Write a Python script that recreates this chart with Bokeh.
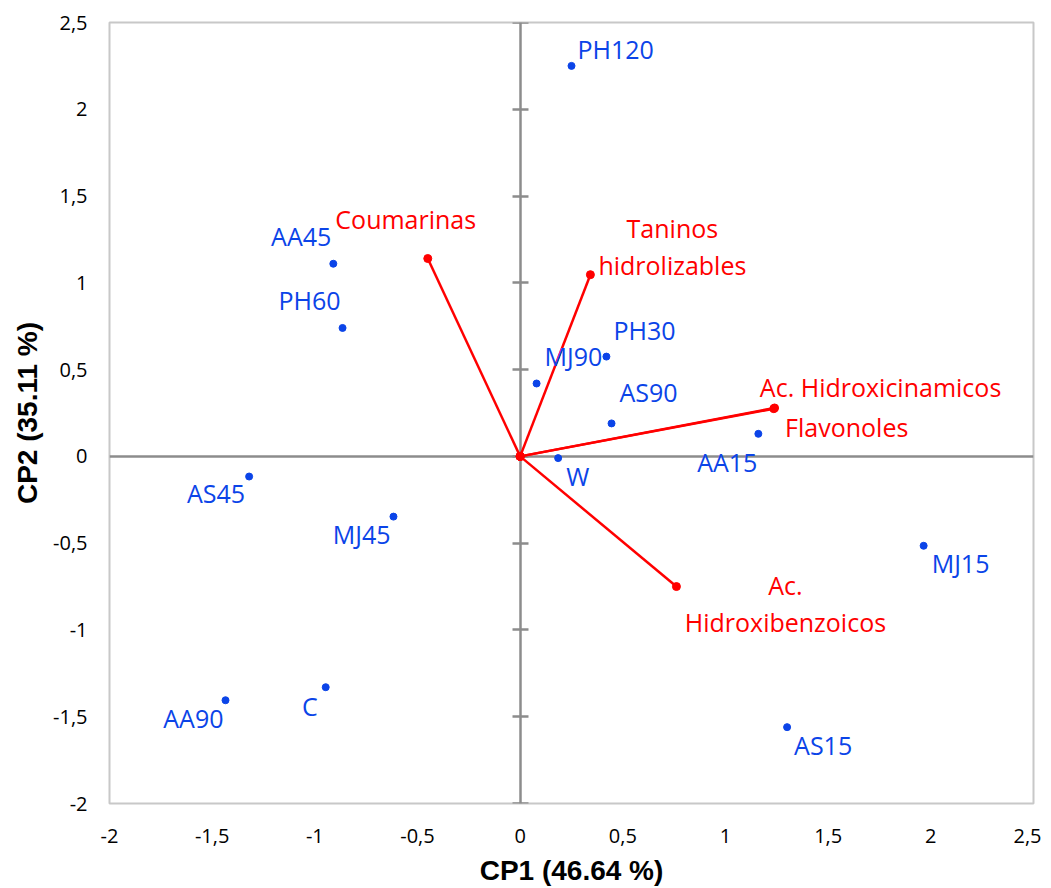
from bokeh.plotting import figure
from bokeh.models import ColumnDataSource, LinearAxis, FixedTicker
from bokeh.core.properties import value
from bokeh.embed import file_html
from bokeh.resources import INLINE

# ---------------- data ----------------
sample_names = ["PH120", "AA45", "PH60", "MJ90", "PH30", "AS90", "AA15",
                "W", "AS45", "MJ45", "C", "AA90", "MJ15", "AS15"]
sample_cp1 = [0.25, -0.91, -0.865, 0.08, 0.42, 0.445, 1.16,
              0.185, -1.32, -0.617, -0.947, -1.435, 1.965, 1.30]
sample_cp2 = [2.25, 1.11, 0.74, 0.42, 0.575, 0.19, 0.13,
              -0.01, -0.116, -0.347, -1.33, -1.405, -0.515, -1.56]

var_names = ["Coumarinas", "Taninos\nhidrolizables", "Ac. Hidroxicinamicos",
             "Flavonoles", "Ac.\nHidroxibenzoicos"]
var_cp1 = [-0.45, 0.342, 1.239, 1.235, 0.761]
var_cp2 = [1.14, 1.047, 0.279, 0.275, -0.75]

x_ticks = [-2, -1.5, -1, -0.5, 0, 0.5, 1, 1.5, 2, 2.5]
x_tick_labels = ["-2", "-1,5", "-1", "-0,5", "0", "0,5", "1", "1,5", "2", "2,5"]
y_ticks = [-2, -1.5, -1, -0.5, 0, 0.5, 1, 1.5, 2, 2.5]
y_tick_labels = ["-2", "-1,5", "-1", "-0,5", "0", "0,5", "1", "1,5", "2", "2,5"]

x_title = "CP1 (46.64 %)"
y_title = "CP2 (35.11 %)"

# ---------------- label placement (styling) ----------------
sample_label_dx = [6, -2, -2, 8, 7, 8, -1, 8, -4, -3, -8, -2, 8, 7]
sample_label_dy = [-17, -28, -28, -27, -27, -31, 28, 18, 16, 17, 19, 18, 17, 18]
sample_label_align = ["left", "right", "right", "left", "left", "left", "right",
                      "left", "right", "right", "right", "right", "left", "left"]
var_label_dx = [-22, 82, 106, 73, 109]
var_label_dy = [-40, -28, -21, 18, 17]

BLUE = "#0B44E8"
RED = "#FF0000"
AXIS_GREY = "#8C8C8C"
FONT = "Open Sans"

samples = ColumnDataSource(dict(
    x=sample_cp1, y=sample_cp2, name=sample_names,
    dx=sample_label_dx, dy=sample_label_dy, align=sample_label_align))
variables = ColumnDataSource(dict(
    x0=[0.0] * len(var_cp1), y0=[0.0] * len(var_cp2),
    x=var_cp1, y=var_cp2, name=var_names,
    dx=var_label_dx, dy=var_label_dy))

p = figure(frame_width=924, frame_height=781,
           min_border_left=109, min_border_right=8,
           min_border_top=22, min_border_bottom=85,
           x_range=(-2, 2.5), y_range=(-2, 2.5),
           output_backend="svg", toolbar_location=None,
           background_fill_color="white", border_fill_color="white")

p.xgrid.visible = False
p.ygrid.visible = False
p.outline_line_color = "#C8C8C8"
p.outline_line_width = 2

# edge axes (labels only)
for ax, ticks, labels in ((p.xaxis[0], x_ticks, x_tick_labels),
                          (p.yaxis[0], y_ticks, y_tick_labels)):
    ax.ticker = FixedTicker(ticks=ticks)
    ax.major_label_overrides = {float(t): l for t, l in zip(ticks, labels)}
    ax.axis_line_color = None
    ax.major_tick_line_color = None
    ax.minor_tick_line_color = None
    ax.major_tick_out = 0
    ax.major_tick_in = 0
    ax.major_label_text_font = FONT
    ax.major_label_text_font_size = "20px"
    ax.major_label_text_color = "#000000"
    ax.axis_label_text_font = "Liberation Sans"
    ax.axis_label_text_font_style = "bold"
    ax.axis_label_text_font_size = "28px"
    ax.axis_label_text_color = "#000000"

p.xaxis[0].axis_label = x_title
p.yaxis[0].axis_label = y_title
p.xaxis[0].major_label_standoff = 25
p.yaxis[0].major_label_standoff = 22
p.xaxis[0].axis_label_standoff = 9
p.yaxis[0].axis_label_standoff = 7

# crossing axes through the origin
v_axis = LinearAxis(fixed_location=0, ticker=FixedTicker(ticks=y_ticks),
                    axis_line_color=AXIS_GREY, axis_line_width=2.5,
                    major_tick_line_color=AXIS_GREY, major_tick_line_width=2.5,
                    major_tick_in=8, major_tick_out=8,
                    minor_tick_line_color=None, major_label_text_color=None)
h_axis = LinearAxis(fixed_location=0, ticker=FixedTicker(ticks=x_ticks),
                    axis_line_color=AXIS_GREY, axis_line_width=2.5,
                    major_tick_line_color=None, minor_tick_line_color=None,
                    major_label_text_color=None)
p.add_layout(v_axis, "left")
p.add_layout(h_axis, "below")

# loading vectors
seg = p.segment(x0="x0", y0="y0", x1="x", y1="y", source=variables,
                line_color=RED, line_width=2.5)
org = p.scatter(x="x0", y="y0", source=variables, size=8,
                fill_color=RED, line_color=RED)
ends = p.scatter(x="x", y="y", source=variables, size=8,
                 fill_color=RED, line_color=RED)
vlab = p.text(x="x", y="y", text="name", source=variables,
              x_offset="dx", y_offset="dy",
              text_font=value(FONT), text_font_size=value("25px"),
              text_color=RED, text_align="center", text_baseline="middle",
              text_line_height=1.09)

# samples
pts = p.scatter(x="x", y="y", source=samples, size=7,
                fill_color=BLUE, line_color=BLUE)
slab = p.text(x="x", y="y", text="name", source=samples,
              x_offset="dx", y_offset="dy", text_align="align",
              text_font=value(FONT), text_font_size=value("25px"),
              text_color=BLUE, text_baseline="middle")

for r in (seg, org, ends, vlab, pts, slab):
    r.level = "annotation"

open("out.html", "w").write(file_html(p, INLINE))
